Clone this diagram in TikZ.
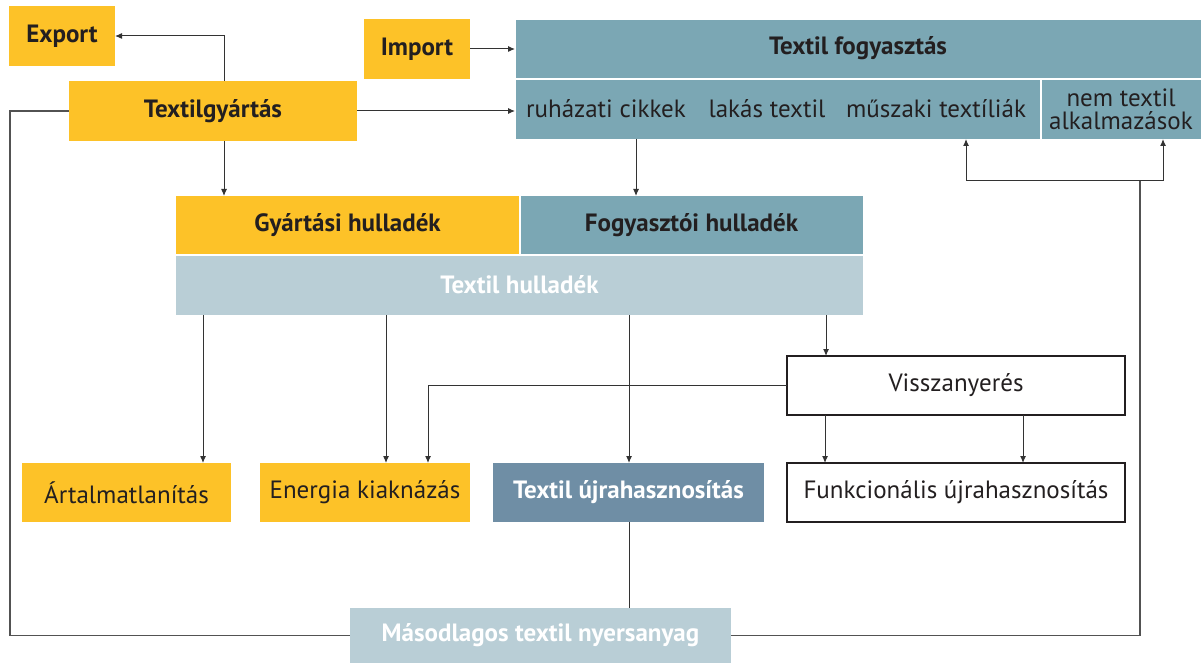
\documentclass[tikz,border=0pt]{standalone}
\usepackage{fontspec}
\setmainfont{PT Sans}
\usetikzlibrary{arrows.meta}
\definecolor{ylw}{HTML}{FDC228}
\definecolor{teal}{HTML}{7BA7B4}
\definecolor{lblue}{HTML}{B9CED6}
\definecolor{slate}{HTML}{6F8EA5}
\definecolor{ink}{HTML}{231F20}
\definecolor{lin}{HTML}{333333}
\tikzset{
  box/.style={inner sep=0pt, outer sep=0pt, align=center, text=ink, font=\fontsize{25}{23}\selectfont},
  ybox/.style={box, fill=ylw},
  tbox/.style={box, fill=teal},
  wbox/.style={box, fill=white, draw=ink, line width=1.3pt},
  bold/.style={font=\fontsize{25}{23}\selectfont\bfseries},
  lbl/.style={inner sep=0pt, text=ink, font=\fontsize{25}{23}\selectfont, align=center},
  arr/.style={draw=lin, line width=1pt, -{Latex[length=7pt,width=6pt]}},
  ln/.style={draw=lin, line width=1pt},
  loop/.style={draw=lin!85, line width=1.4pt},
}
\begin{document}
\begin{tikzpicture}[x=1pt,y=-1pt]
\useasboundingbox (0,0) rectangle (1201,663);
% top
\node[ybox, bold, minimum width=106, minimum height=60] (export) at (62,36) {Export};
\node[ybox, bold, minimum width=106, minimum height=60] (import) at (417,49) {Import};
\node[ybox, bold, minimum width=288, minimum height=60] (gyart) at (213,111) {Textilgyártás};
\node[tbox, bold, minimum width=686, minimum height=59, draw=white, line width=0.8pt] (fogy) at (858,48.5) {Textil fogyasztás};
\node[tbox, minimum width=525, minimum height=60, draw=white, line width=0.8pt] (rowA) at (777.5,109) {};
\node[tbox, minimum width=160, minimum height=60, draw=white, line width=0.8pt] (rowB) at (1121,109) {nem textil\\alkalmazások};
\node[lbl] (ruha) at (606,109) {ruházati cikkek};
\node[lbl] (lakas) at (767,109) {lakás textil};
\node[lbl] (musz) at (936,109) {műszaki textíliák};
% waste
\node[ybox, bold, minimum width=343, minimum height=58] (gyhull) at (347.5,225) {Gyártási hulladék};
\node[tbox, bold, minimum width=343, minimum height=58] (fohull) at (691.5,225) {Fogyasztói hulladék};
\node[box, fill=lblue, bold, text=white, minimum width=687, minimum height=60] (thull) at (519.5,285) {Textil hulladék};
\draw[white, line width=1pt] (fohull.north west) -- (fohull.south west);
\draw[white, line width=1pt] (thull.north west) -- (thull.north east);
% lower
\node[wbox, minimum width=338, minimum height=59] (vissz) at (956,385.5) {Visszanyerés};
\node[ybox, minimum width=209, minimum height=59] (artal) at (126.5,492.5) {Ártalmatlanítás};
\node[ybox, minimum width=210, minimum height=59] (energ) at (365,492.5) {Energia kiaknázás};
\node[box, fill=slate, bold, text=white, minimum width=271, minimum height=59] (tujra) at (628.5,492.5) {Textil újrahasznosítás};
\node[wbox, minimum width=338, minimum height=59] (funk) at (956,492.5) {Funkcionális újrahasznosítás};
\node[box, fill=lblue, bold, text=white, minimum width=381, minimum height=56] (masod) at (540.5,635.5) {Másodlagos textil nyersanyag};
% connectors
\draw[arr] (224,0 |- gyart.north) |- (export.east);
\draw[arr] (import.east) -- (import.east -| fogy.west);
\draw[arr] (gyart.east) -- (gyart.east -| rowA.west);
\draw[arr] (224,0 |- gyart.south) -- (224,0 |- gyhull.north);
\draw[arr] (636,0 |- rowA.south) -- (636,0 |- fohull.north);
\draw[arr] (203,0 |- thull.south) -- (203,0 |- artal.north);
\draw[arr] (386,0 |- thull.south) -- (386,0 |- energ.north);
\draw[arr] (629,0 |- thull.south) -- (629,0 |- tujra.north);
\draw[arr] (826,0 |- thull.south) -- (826,0 |- vissz.north);
\draw[arr] (vissz.west) -| (428,0 |- energ.north);
\draw[arr] (825,0 |- vissz.south) -- (825,0 |- funk.north);
\draw[arr] (1023,0 |- vissz.south) -- (1023,0 |- funk.north);
\draw[ln] (629,0 |- tujra.south) -- (629,0 |- masod.north);
\draw[loop] (gyart.west) -- (10,0 |- gyart.west) |- (masod.west);
\coordinate (split) at (1140,181);
\draw[loop] (masod.east) -| (split);
\draw[arr] (split) -| (966,0 |- rowA.south);
\draw[arr] (split) -| (1163,0 |- rowB.south);
\end{tikzpicture}
\end{document}
